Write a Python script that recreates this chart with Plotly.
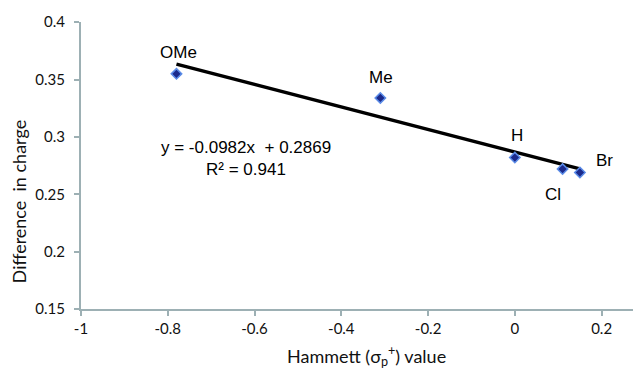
import plotly.graph_objects as go

# Data
substituents = ["OMe", "Me", "H", "Cl", "Br"]
sigma_p_plus = [-0.78, -0.31, 0.0, 0.11, 0.15]
charge_diff = [0.355, 0.334, 0.282, 0.272, 0.269]
slope = -0.0982
intercept = 0.2869
r_squared = 0.941

x_ticks = [-1, -0.8, -0.6, -0.4, -0.2, 0, 0.2]
y_ticks = [0.15, 0.2, 0.25, 0.3, 0.35, 0.4]

# label offsets in pixels (dx, dy)
label_offsets = {"OMe": (2, -21), "Me": (1, -20), "H": (2, -22), "Cl": (-10, 25), "Br": (25, -12)}

x_fit = [min(sigma_p_plus), max(sigma_p_plus)]
y_fit = [slope * v + intercept for v in x_fit]

axis_color = "#9db0b4"
calib = "Lato, Open Sans, sans-serif"
arial = "Liberation Sans, Arial, sans-serif"
tick_font = dict(family=calib, size=15, color="#111111")
label_font = dict(family=arial, size=17, color="#000000")

T, B = 5, 75
plot_h = 376 - T - B

fig = go.Figure()
fig.add_trace(go.Scatter(
    x=x_fit, y=y_fit, mode="lines",
    line=dict(color="#000000", width=3.5), showlegend=False, hoverinfo="skip"))
fig.add_trace(go.Scatter(
    x=sigma_p_plus, y=charge_diff, mode="markers",
    marker=dict(symbol="diamond", size=8, color="#1b2a8c",
                line=dict(color="#5b8ce8", width=1.5)),
    showlegend=False))

for name, xv, yv in zip(substituents, sigma_p_plus, charge_diff):
    dx, dy = label_offsets[name]
    fig.add_annotation(x=xv, y=yv, xref="x", yref="y", text=name, showarrow=False,
                       xshift=dx, yshift=-dy, font=label_font)

eq_text = f"y = {slope:.4f}x\u00a0 + {intercept:.4f}"
fig.add_annotation(x=-0.62, y=0.2910, xref="x", yref="y", text=eq_text,
                   showarrow=False, font=dict(family=arial, size=17, color="#000"))
fig.add_annotation(x=-0.62, y=0.2716, xref="x", yref="y", text=f"R² = {r_squared}",
                   showarrow=False, font=dict(family=arial, size=17, color="#000"))

# axis titles
fig.add_annotation(xref="paper", yref="paper", x=0, y=(376 - B - 190) / plot_h, xshift=-62,
                   xanchor="center", yanchor="middle", textangle=-90, showarrow=False,
                   text="Difference\u00a0 in charge", font=dict(family=calib, size=18, color="#111"))
fig.add_annotation(xref="paper", yref="paper", x=(358 - 73) / 564, y=0, yshift=-47,
                   xanchor="center", yanchor="middle", showarrow=False,
                   text="Hammett (σ<sub>p</sub><sup>+</sup>) value", font=dict(family=calib, size=18, color="#111"))

fig.update_layout(
    width=641, height=376,
    margin=dict(l=73, r=4, t=T, b=B),
    paper_bgcolor="white", plot_bgcolor="white",
    xaxis=dict(range=[-1, 0.3], tickvals=x_ticks, ticktext=[f"{v:g}" for v in x_ticks],
               showgrid=False, zeroline=False, showline=True, linecolor=axis_color, linewidth=2,
               ticks="outside", tickcolor=axis_color, tickwidth=2, ticklen=5,
               tickfont=tick_font, ticklabeloverflow="allow"),
    yaxis=dict(range=[0.15, 0.4002], tickvals=y_ticks, ticktext=[f"{v:g}" for v in y_ticks],
               showgrid=False, zeroline=False, showline=True, linecolor=axis_color, linewidth=2,
               ticks="outside", tickcolor=axis_color, tickwidth=2, ticklen=5,
               tickfont=tick_font, ticklabeloverflow="allow", ticklabelstandoff=6),
)

fig.write_html("out.html")
